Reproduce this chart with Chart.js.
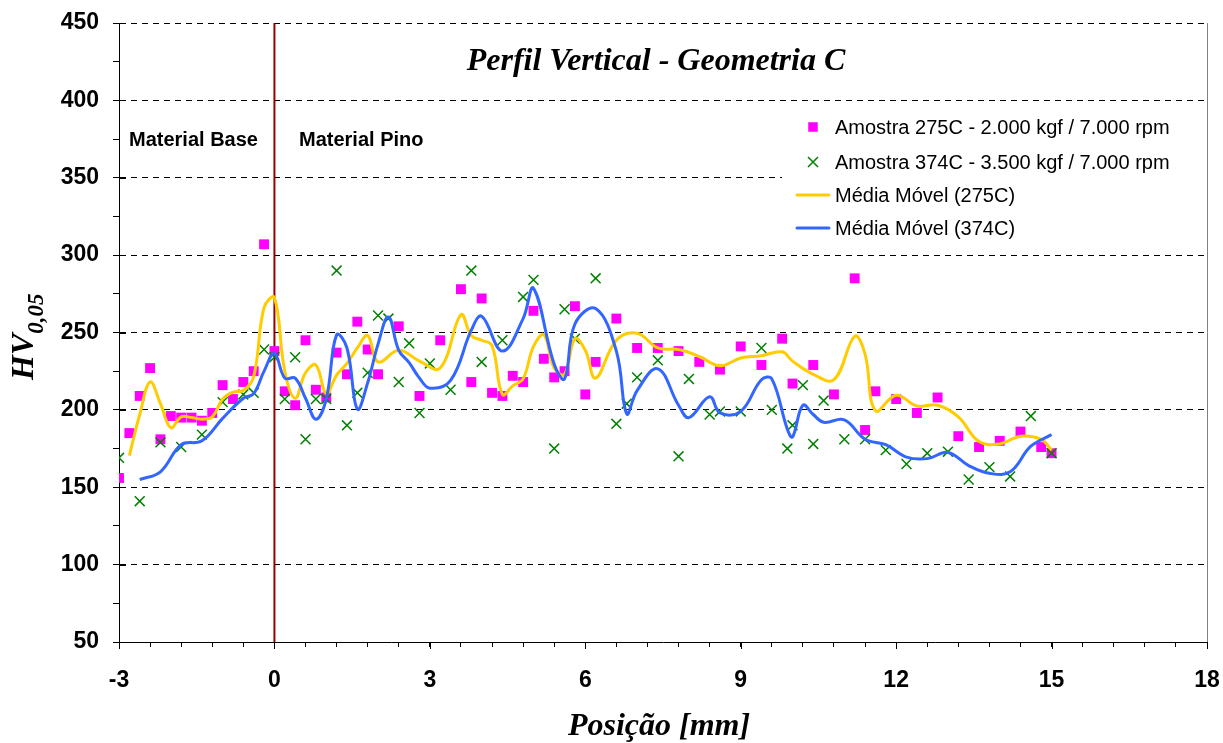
<!DOCTYPE html>
<html>
<head>
<meta charset="utf-8">
<script src="https://cdn.jsdelivr.net/npm/chart.js@4.4.0/dist/chart.umd.min.js"></script>
<style>
  html, body { margin: 0; padding: 0; background: #fff; }
  #wrap { width: 1223px; height: 743px; }
</style>
</head>
<body>
<div id="wrap"><canvas id="chartPerfil" width="1223" height="743"></canvas></div>
<script>
  // Amostra 275C - pontos medidos
  const pos275 = [-3, -2.8, -2.6, -2.4, -2.2, -2, -1.8, -1.6, -1.4, -1.2, -1, -0.8, -0.6, -0.4, -0.2,
    0, 0.2, 0.4, 0.6, 0.8, 1, 1.2, 1.4, 1.6, 1.8, 2, 2.4, 2.8, 3.2, 3.6, 3.8, 4, 4.2, 4.4, 4.6, 4.8,
    5, 5.2, 5.4, 5.6, 5.8, 6, 6.2, 6.6, 7, 7.4, 7.8, 8.2, 8.6, 9, 9.4, 9.8, 10, 10.4, 10.8, 11.2,
    11.4, 11.6, 12, 12.4, 12.8, 13.2, 13.6, 14, 14.4, 14.8, 15];
  const hv275 = [156, 185, 209, 227, 181, 196, 195, 195, 193, 198, 216, 207, 218, 225, 307,
    238, 212, 203, 245, 213, 208, 237, 223, 257, 239, 223, 254, 209, 245, 278, 218, 272, 211, 209, 222, 218,
    264, 233, 221, 225, 267, 210, 231, 259, 240, 240, 238, 231, 226, 241, 229, 246, 217, 229, 210, 285,
    187, 212, 207, 198, 208, 183, 176, 180, 186, 176, 172];

  // Amostra 374C - pontos medidos
  const pos374 = [-3, -2.6, -2.2, -1.8, -1.4, -1, -0.6, -0.4, -0.2, 0, 0.2, 0.4, 0.6, 0.8, 1,
    1.2, 1.4, 1.6, 1.8, 2, 2.2, 2.4, 2.6, 2.8, 3, 3.4, 3.8, 4, 4.4, 4.8, 5, 5.4, 5.6, 5.8, 6.2,
    6.6, 6.8, 7, 7.4, 7.8, 8, 8.4, 8.6, 9, 9.4, 9.6, 9.9, 10, 10.2, 10.4, 10.6, 11, 11.4, 11.8,
    12.2, 12.6, 13, 13.4, 13.8, 14.2, 14.6, 15];
  const hv374 = [169, 141, 179, 176, 184, 205, 210, 211, 239, 234, 207, 234, 181, 207, 207,
    290, 190, 211, 224, 261, 259, 218, 243, 198, 230, 213, 290, 231, 245, 273, 284, 175, 265, 246, 285,
    191, 204, 221, 232, 170, 220, 197, 199, 199, 240, 200, 175, 190, 216, 178, 206, 181, 181, 174,
    165, 172, 173, 155, 163, 157, 196, 172];

  // Média móvel (275C)
  const posMM275 = [-2.8, -2.6, -2.4, -2.2, -2, -1.8, -1.6, -1.4, -1.2, -1, -0.8, -0.6, -0.4, -0.2,
    0, 0.2, 0.4, 0.6, 0.8, 1, 1.2, 1.4, 1.6, 1.8, 2, 2.4, 2.8, 3.2, 3.6, 3.8, 4, 4.2, 4.4, 4.6, 4.8,
    5, 5.2, 5.4, 5.6, 5.8, 6, 6.2, 6.6, 7, 7.4, 7.8, 8.2, 8.6, 9, 9.4, 9.8, 10, 10.4, 10.8, 11.2,
    11.4, 11.6, 12, 12.4, 12.8, 13.2, 13.6, 14, 14.4, 14.8, 15];
  const mm275 = [170.5, 197, 218, 204, 188.5, 195.5, 195, 194, 195.5, 207, 211.5, 212.5, 221.5, 266,
    272.5, 225, 207.5, 224, 229, 210.5, 222.5, 230, 240, 248, 231, 238.5, 231.5, 227, 261.5, 248, 245, 241.5, 210, 215.5, 220,
    241, 248.5, 227, 223, 246, 238.5, 220.5, 245, 249.5, 240, 239, 234.5, 228.5, 233.5, 235, 237.5, 231.5, 223, 219.5, 247.5,
    236, 199.5, 209.5, 202.5, 203, 195.5, 179.5, 178, 183, 181, 174];

  // Média móvel (374C)
  const posMM374 = [-2.6, -2.2, -1.8, -1.4, -1, -0.6, -0.4, -0.2, 0, 0.2, 0.4, 0.6, 0.8, 1,
    1.2, 1.4, 1.6, 1.8, 2, 2.2, 2.4, 2.6, 2.8, 3, 3.4, 3.8, 4, 4.4, 4.8, 5, 5.4, 5.6, 5.8, 6.2,
    6.6, 6.8, 7, 7.4, 7.8, 8, 8.4, 8.6, 9, 9.4, 9.6, 9.9, 10, 10.2, 10.4, 10.6, 11, 11.4, 11.8,
    12.2, 12.6, 13, 13.4, 13.8, 14.2, 14.6, 15];
  const mm374 = [155, 160, 177.5, 180, 194.5, 207.5, 210.5, 225, 236.5, 220.5, 220.5, 207.5, 194, 207,
    248.5, 240, 200.5, 217.5, 242.5, 260, 238.5, 230.5, 220.5, 214, 219, 251.5, 260.5, 238, 259, 278.5, 229.5, 220, 255.5, 265.5,
    238, 197.5, 212.5, 226.5, 203, 195, 208.5, 198, 199, 219.5, 220, 187.5, 182.5, 203, 197, 192, 193.5, 181, 177.5,
    169.5, 168.5, 172.5, 164, 159, 160, 176.5, 184];

  const legendLabels = ['Amostra 275C - 2.000 kgf / 7.000 rpm', 'Amostra 374C - 3.500 kgf / 7.000 rpm',
    'Média Móvel (275C)', 'Média Móvel (374C)'];

  const fontSans = '"Liberation Sans", Arial, sans-serif';
  const fontSerif = '"Liberation Serif", "Times New Roman", serif';
  const corMagenta = '#FF00FF', corVerde = '#008000', corAmarelo = '#FFCC00', corAzul = '#3366FF';

  const toPoints = (xs, ys) => xs.map((x, i) => ({ x: x, y: ys[i] }));
  const isMult = (v, m) => Math.abs(v / m - Math.round(v / m)) < 1e-6;

  // desenhos extra: linha em 0, borda direita, títulos, legenda
  const extras = {
    id: 'extras',
    beforeDatasetsDraw(chart) {
      const { ctx, chartArea: a, scales: { x, y } } = chart;
      ctx.save();
      const x0 = x.getPixelForValue(0);
      ctx.strokeStyle = '#990000';
      ctx.lineWidth = 2;
      ctx.beginPath(); ctx.moveTo(x0, a.top); ctx.lineTo(x0, a.bottom); ctx.stroke();

      ctx.strokeStyle = '#808080';
      ctx.lineWidth = 1;
      ctx.beginPath(); ctx.moveTo(a.right + 0.5, a.top); ctx.lineTo(a.right + 0.5, a.bottom); ctx.stroke();

      // parte interna dos traços principais do eixo y
      ctx.strokeStyle = '#000';
      y.ticks.forEach(t => {
        if (!isMult(t.value, 50)) return;
        const py = Math.round(y.getPixelForValue(t.value)) + 0.5;
        ctx.beginPath(); ctx.moveTo(a.left, py); ctx.lineTo(a.left + 7, py); ctx.stroke();
      });
      // traços principais do eixo x um pouco mais longos
      x.ticks.forEach(t => {
        if (!isMult(t.value, 3)) return;
        const px = Math.round(x.getPixelForValue(t.value)) + 0.5;
        ctx.beginPath(); ctx.moveTo(px, a.bottom); ctx.lineTo(px, a.bottom + 7); ctx.stroke();
      });
      ctx.restore();
    },
    afterDraw(chart) {
      const { ctx, chartArea: a } = chart;
      ctx.save();
      ctx.fillStyle = '#000';

      // título
      ctx.font = 'italic bold 32px ' + fontSerif;
      ctx.textAlign = 'center';
      ctx.textBaseline = 'alphabetic';
      ctx.fillText('Perfil Vertical - Geometria C', 656, 70);

      // título eixo x
      ctx.fillText('Posição [mm]', 659, 735);

      // título eixo y com subscrito
      ctx.save();
      ctx.translate(33, 380);
      ctx.rotate(-Math.PI / 2);
      ctx.textAlign = 'left';
      ctx.fillText('HV', 0, 0);
      const w = ctx.measureText('HV').width;
      ctx.font = 'italic bold 23px ' + fontSerif;
      ctx.fillText('0,05', w, 10);
      ctx.restore();

      // regiões
      ctx.font = 'bold 20px ' + fontSans;
      ctx.textAlign = 'left';
      ctx.textBaseline = 'middle';
      ctx.fillText('Material Base', 129, 140);
      ctx.fillText('Material Pino', 299, 140);

      // legenda
      ctx.fillStyle = '#fff';
      ctx.fillRect(782, 104, a.right - 783, 146);
      const rows = [127, 162, 195, 228];
      ctx.fillStyle = corMagenta;
      ctx.fillRect(813 - 4.75, rows[0] - 4.75, 9.5, 9.5);
      ctx.strokeStyle = corVerde;
      ctx.lineWidth = 1.5;
      ctx.beginPath();
      ctx.moveTo(808, rows[1] - 5); ctx.lineTo(818, rows[1] + 5);
      ctx.moveTo(818, rows[1] - 5); ctx.lineTo(808, rows[1] + 5);
      ctx.stroke();
      ctx.lineWidth = 3;
      ctx.lineCap = 'round';
      ctx.strokeStyle = corAmarelo;
      ctx.beginPath(); ctx.moveTo(797, rows[2]); ctx.lineTo(829, rows[2]); ctx.stroke();
      ctx.strokeStyle = corAzul;
      ctx.beginPath(); ctx.moveTo(797, rows[3]); ctx.lineTo(829, rows[3]); ctx.stroke();
      ctx.fillStyle = '#000';
      ctx.font = '20px ' + fontSans;
      legendLabels.forEach((txt, i) => ctx.fillText(txt, 835, rows[i] + 1));
      ctx.restore();
    }
  };

  const ctxPerfil = document.getElementById('chartPerfil').getContext('2d');
  new Chart(ctxPerfil, {
    type: 'scatter',
    data: {
      datasets: [{
        label: legendLabels[3],
        data: toPoints(posMM374, mm374),
        showLine: true,
        borderColor: corAzul,
        borderWidth: 3,
        pointRadius: 0,
        tension: 0.4,
        order: 1
      }, {
        label: legendLabels[2],
        data: toPoints(posMM275, mm275),
        showLine: true,
        borderColor: corAmarelo,
        borderWidth: 3,
        pointRadius: 0,
        tension: 0.4,
        order: 2
      }, {
        label: legendLabels[1],
        data: toPoints(pos374, hv374),
        pointStyle: 'crossRot',
        pointRadius: 7,
        borderColor: corVerde,
        borderWidth: 1.5,
        order: 3
      }, {
        label: legendLabels[0],
        data: toPoints(pos275, hv275),
        pointStyle: 'rect',
        pointRadius: 7,
        backgroundColor: corMagenta,
        borderColor: corMagenta,
        borderWidth: 0,
        order: 4
      }]
    },
    options: {
      responsive: false,
      animation: false,
      events: [],
      layout: { padding: { top: 23, right: 16, left: 0, bottom: 0 } },
      plugins: {
        legend: { display: false },
        tooltip: { enabled: false }
      },
      scales: {
        x: {
          type: 'linear',
          min: -3,
          max: 18,
          afterFit(s) { s.height = 101; s.paddingLeft = 0; s.paddingRight = 0; },
          ticks: {
            stepSize: 0.6,
            autoSkip: false,
            maxRotation: 0,
            padding: 20,
            color: '#000',
            font: { family: fontSans, size: 23, weight: 'bold' },
            callback: v => isMult(v, 3) ? String(Math.round(v)) : ''
          },
          grid: { drawOnChartArea: false, tickLength: 5, color: '#000', tickColor: '#000' },
          border: { color: '#000', width: 1 }
        },
        y: {
          min: 50,
          max: 450,
          afterFit(s) { s.width = 119; s.paddingTop = 0; s.paddingBottom = 0; },
          ticks: {
            stepSize: 25,
            padding: 14,
            color: '#000',
            font: { family: fontSans, size: 23, weight: 'bold' },
            callback: v => isMult(v, 50) ? String(v) : ''
          },
          grid: {
            color: c => (c.tick && isMult(c.tick.value, 50) && c.tick.value > 50) ? '#000' : 'rgba(0,0,0,0)',
            tickColor: '#000',
            tickLength: 6,
            lineWidth: 1
          },
          border: { color: '#000', width: 1, dash: [6, 5] }
        }
      }
    },
    plugins: [extras]
  });
</script>
</body>
</html>
